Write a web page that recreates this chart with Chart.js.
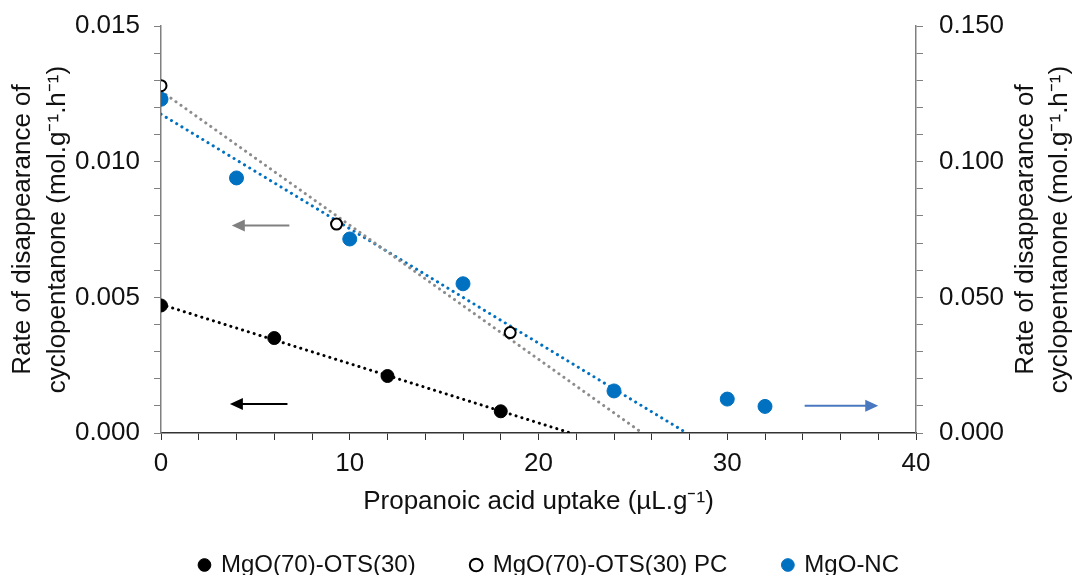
<!DOCTYPE html>
<html>
<head>
<meta charset="utf-8">
<script src="https://cdn.jsdelivr.net/npm/chart.js@4.4.1/dist/chart.umd.min.js"></script>
<style>
  html, body { margin: 0; padding: 0; background: #fff; }
  #wrap { width: 1073px; height: 575px; }
</style>
</head>
<body>
<div id="wrap"><canvas id="chart"></canvas></div>
<script>
// values
const otsX = [0, 6, 12, 18];
const otsY = [0.0047, 0.0035, 0.0021, 0.0008];

const pcX = [0, 9.3, 18.5];
const pcY = [0.0128, 0.0077, 0.0037];

// MgO-NC is on the right axis
const ncX = [0, 4, 10, 16, 24, 30, 32];
const ncY = [0.123, 0.094, 0.0715, 0.055, 0.0155, 0.0125, 0.0098];

// trendline ends
const otsTrendX = [0, 21.7];
const otsTrendY = [0.00474, 0];
const pcTrendX = [0, 25.5];
const pcTrendY = [0.0126, 0];
const ncTrendX = [0, 27.85];
const ncTrendY = [0.1175, 0];

// arrows pointing to the axis each series uses (data units, left axis)
const arrowFromX = [6.8, 6.7, 34.1];
const arrowToX = [3.75, 3.65, 38.0];
const arrowY = [0.00765, 0.00107, 0.00100];
const arrowColors = ['#808080', '#000000', '#4a78c0'];

const legendNames = ['MgO(70)-OTS(30)', 'MgO(70)-OTS(30) PC', 'MgO-NC'];
const yTitle = ['Rate of disappearance of', 'cyclopentanone (mol.g⁻¹.h⁻¹)'];

const toPoints = (xs, ys) => xs.map((x, i) => ({ x: x, y: ys[i] }));

Chart.defaults.font.family = '"Liberation Sans", Arial, sans-serif';
Chart.defaults.color = '#111';

const dotted = (color, axis, xs, ys) => ({
  type: 'line',
  data: toPoints(xs, ys),
  yAxisID: axis,
  borderColor: color,
  borderWidth: 3,
  borderDash: [0.1, 6],
  borderCapStyle: 'round',
  pointRadius: 0,
  fill: false,
  order: 5
});

const arrows = {
  id: 'arrows',
  afterDatasetsDraw(chart) {
    const ctx = chart.ctx;
    const xs = chart.scales.x, ys = chart.scales.y;
    ctx.save();
    arrowY.forEach((v, i) => {
      const x1 = xs.getPixelForValue(arrowFromX[i]);
      const x2 = xs.getPixelForValue(arrowToX[i]);
      const y = ys.getPixelForValue(v);
      const dir = x2 > x1 ? 1 : -1;
      ctx.strokeStyle = arrowColors[i];
      ctx.fillStyle = arrowColors[i];
      ctx.lineWidth = 2;
      ctx.beginPath();
      ctx.moveTo(x1, y);
      ctx.lineTo(x2 - dir * 10, y);
      ctx.stroke();
      ctx.beginPath();
      ctx.moveTo(x2, y);
      ctx.lineTo(x2 - dir * 13, y - 6);
      ctx.lineTo(x2 - dir * 13, y + 6);
      ctx.closePath();
      ctx.fill();
    });
    ctx.restore();
  }
};

// right axis title reads bottom-to-top like the left one
const rightTitle = {
  id: 'rightTitle',
  afterDraw(chart) {
    const ctx = chart.ctx;
    const area = chart.chartArea;
    const cy = (area.top + area.bottom) / 2;
    ctx.save();
    ctx.font = '26px "Liberation Sans", Arial, sans-serif';
    ctx.fillStyle = '#111';
    ctx.textAlign = 'center';
    ctx.textBaseline = 'middle';
    [chart.width - 47, chart.width - 13].forEach((x, i) => {
      ctx.save();
      ctx.translate(x, cy);
      ctx.rotate(-Math.PI / 2);
      ctx.fillText(yTitle[i], 0, 0);
      ctx.restore();
    });
    ctx.restore();
  }
};

new Chart(document.getElementById('chart'), {
  type: 'scatter',
  data: {
    datasets: [
      {
        label: legendNames[0],
        data: toPoints(otsX, otsY),
        yAxisID: 'y',
        backgroundColor: '#000',
        borderColor: '#000',
        borderWidth: 1,
        pointRadius: 6.5,
        order: 1
      },
      {
        label: legendNames[1],
        data: toPoints(pcX, pcY),
        yAxisID: 'y',
        backgroundColor: '#fff',
        borderColor: '#000',
        borderWidth: 2,
        pointRadius: 5.5,
        order: 1
      },
      {
        label: legendNames[2],
        data: toPoints(ncX, ncY),
        yAxisID: 'y2',
        backgroundColor: '#0070c0',
        borderColor: '#0070c0',
        borderWidth: 1,
        pointRadius: 7,
        order: 1
      },
      dotted('#000000', 'y', otsTrendX, otsTrendY),
      dotted('#8c8c8c', 'y', pcTrendX, pcTrendY),
      dotted('#0070c0', 'y2', ncTrendX, ncTrendY)
    ]
  },
  options: {
    responsive: true,
    maintainAspectRatio: false,
    animation: false,
    layout: { padding: { top: 26, left: 0, right: -26, bottom: -12 } },
    plugins: {
      tooltip: { enabled: false },
      legend: {
        position: 'bottom',
        labels: {
          filter: item => item.datasetIndex < 3,
          usePointStyle: true,
          pointStyle: 'circle',
          boxWidth: 9,
          boxHeight: 9,
          padding: 56,
          font: { size: 24 },
          color: '#111'
        }
      }
    },
    scales: {
      x: {
        type: 'linear',
        min: 0,
        max: 40,
        border: { color: '#333', width: 1.5 },
        grid: { drawOnChartArea: false, drawTicks: true, tickLength: 7, color: '#333' },
        ticks: {
          stepSize: 2,
          autoSkip: false,
          maxRotation: 0,
          padding: 8,
          font: { size: 26 },
          callback: v => (Math.round(v) % 10 === 0 ? String(Math.round(v)) : '')
        },
        title: {
          display: true,
          text: 'Propanoic acid uptake (µL.g⁻¹)',
          font: { size: 26 },
          padding: { top: 0, bottom: -20 }
        },
        afterFit: s => { s.height = 64; }
      },
      y: {
        position: 'left',
        min: 0,
        max: 0.015,
        border: { color: '#808080', width: 1.5 },
        grid: { drawOnChartArea: false, drawTicks: true, tickLength: 7, color: '#808080' },
        ticks: {
          stepSize: 0.001,
          autoSkip: false,
          padding: 14,
          font: { size: 26 },
          callback: v => (Math.round(v * 1000) % 5 === 0 ? v.toFixed(3) : '')
        },
        title: {
          display: true,
          text: yTitle,
          font: { size: 26, lineHeight: 1.33 },
          padding: { top: 6, bottom: 0 }
        },
        afterFit: s => { s.width = 161; s.paddingTop = 0; s.paddingBottom = 0; }
      },
      y2: {
        position: 'right',
        min: 0,
        max: 0.15,
        border: { color: '#808080', width: 1.5 },
        grid: { drawOnChartArea: false, drawTicks: true, tickLength: 7, color: '#808080' },
        ticks: {
          stepSize: 0.01,
          autoSkip: false,
          padding: 16,
          font: { size: 26 },
          callback: v => (Math.round(v * 100) % 5 === 0 ? v.toFixed(3) : '')
        },
        afterFit: s => { s.width = 183; s.paddingTop = 0; s.paddingBottom = 0; }
      }
    }
  },
  plugins: [arrows, rightTitle]
});
</script>
</body>
</html>
